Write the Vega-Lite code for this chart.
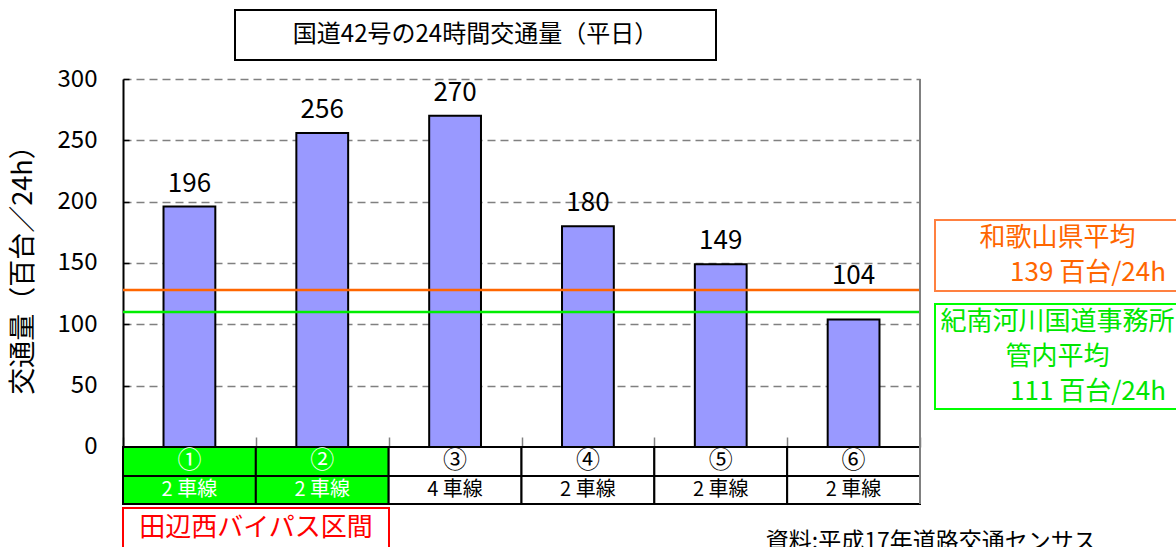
{
  "$schema": "https://vega.github.io/schema/vega-lite/v6.json",
  "background": "white",
  "padding": {"left": 9, "top": 9, "right": 0, "bottom": 0},
  "config": {
    "font": "Noto Sans CJK JP",
    "view": {"stroke": null},
    "text": {"color": "black", "baseline": "middle"}
  },
  "datasets": {
    "traffic": [
      {"区間": "①", "交通量": 196, "車線": "2 車線", "田辺西": true},
      {"区間": "②", "交通量": 256, "車線": "2 車線", "田辺西": true},
      {"区間": "③", "交通量": 270, "車線": "4 車線", "田辺西": false},
      {"区間": "④", "交通量": 180, "車線": "2 車線", "田辺西": false},
      {"区間": "⑤", "交通量": 149, "車線": "2 車線", "田辺西": false},
      {"区間": "⑥", "交通量": 104, "車線": "2 車線", "田辺西": false}
    ],
    "averages": [
      {"平均": "和歌山県平均", "値": 128},
      {"平均": "紀南河川国道事務所管内平均", "値": 110}
    ],
    "wakayama": [
      {"行": 1, "文": "和歌山県平均"},
      {"行": 2, "文": "139 百台/24h"}
    ],
    "kinan": [
      {"行": 1, "文": "紀南河川国道事務所"},
      {"行": 2, "文": "管内平均"},
      {"行": 3, "文": "111 百台/24h"}
    ]
  },
  "spacing": 2,
  "vconcat": [
    {
      "spacing": 110,
      "hconcat": [
        {"data": {"values": []}, "mark": "point", "width": 1, "height": 1},
        {
          "width": 481,
          "height": 50,
          "view": {"stroke": "black", "strokeWidth": 2},
          "data": {"values": [{"題": "国道42号の24時間交通量（平日）"}]},
          "mark": {"type": "text", "fontSize": 24},
          "encoding": {"text": {"field": "題"}}
        }
      ]
    },
    {"data": {"values": []}, "mark": "point", "width": 1, "height": 2},
    {
      "spacing": 12,
      "hconcat": [
        {
          "width": 797,
          "height": 425,
          "data": {"name": "traffic"},
          "layer": [
            {
              "mark": {"type": "bar", "width": {"band": 0.39}, "fill": "#9999FF", "stroke": "black", "strokeWidth": 2},
              "encoding": {
                "x": {
                  "field": "区間", "type": "nominal", "sort": null,
                  "scale": {"paddingInner": 0, "paddingOuter": 0},
                  "axis": {"labels": false, "domain": false, "title": null, "ticks": true, "tickBand": "extent", "tickSize": -10, "tickColor": "#808080", "tickWidth": 1.5, "offset": -57, "grid": false}
                },
                "y": {
                  "field": "交通量", "type": "quantitative",
                  "scale": {"domain": [-46.5, 300], "nice": false, "zero": false},
                  "axis": {
                    "values": [0, 50, 100, 150, 200, 250, 300],
                    "title": "交通量（百台／24h）",
                    "titleFontSize": 27, "titleFontWeight": "normal", "titleColor": "black",
                    "titleY": 184, "titlePadding": 20,
                    "labelFontSize": 24, "labelColor": "black", "labelPadding": 32,
                    "tickSize": -6, "tickColor": "black", "tickWidth": 1.5,
                    "domainColor": "black", "domainWidth": 2,
                    "grid": true, "gridColor": "#808080", "gridDash": [8, 5], "gridWidth": 1.5
                  }
                }
              }
            },
            {
              "transform": [{"filter": "datum['区間'] != '⑥'"}],
              "mark": {"type": "text", "fontSize": 26, "dy": -23},
              "encoding": {
                "x": {"field": "区間", "type": "nominal", "sort": null},
                "y": {"field": "交通量", "type": "quantitative"},
                "text": {"field": "交通量"}
              }
            },
            {
              "transform": [{"filter": "datum['区間'] == '⑥'"}],
              "mark": {"type": "text", "fontSize": 26, "dy": -43},
              "encoding": {
                "x": {"field": "区間", "type": "nominal", "sort": null},
                "y": {"field": "交通量", "type": "quantitative"},
                "text": {"field": "交通量"}
              }
            },
            {
              "data": {"name": "averages"},
              "mark": {"type": "rule", "strokeWidth": 2.5},
              "encoding": {
                "y": {"field": "値", "type": "quantitative"},
                "color": {
                  "field": "平均", "type": "nominal",
                  "scale": {"domain": ["和歌山県平均", "紀南河川国道事務所管内平均"], "range": ["#FF6600", "#00EE00"]},
                  "legend": null
                }
              }
            },
            {
              "mark": {"type": "rect", "stroke": "black", "strokeWidth": 2},
              "encoding": {
                "x": {"field": "区間", "type": "nominal", "sort": null},
                "y": {"datum": 0, "type": "quantitative"},
                "y2": {"datum": -23.6},
                "fill": {"condition": {"test": "datum['田辺西']", "value": "#00FF00"}, "value": "white"}
              }
            },
            {
              "mark": {"type": "rect", "stroke": "black", "strokeWidth": 2},
              "encoding": {
                "x": {"field": "区間", "type": "nominal", "sort": null},
                "y": {"datum": -23.6, "type": "quantitative"},
                "y2": {"datum": -46.5},
                "fill": {"condition": {"test": "datum['田辺西']", "value": "#00FF00"}, "value": "white"}
              }
            },
            {
              "mark": {"type": "text", "fontSize": 24},
              "encoding": {
                "x": {"field": "区間", "type": "nominal", "sort": null},
                "y": {"datum": -11.8, "type": "quantitative"},
                "text": {"field": "区間"},
                "color": {"condition": {"test": "datum['田辺西']", "value": "white"}, "value": "black"}
              }
            },
            {
              "mark": {"type": "text", "fontSize": 20},
              "encoding": {
                "x": {"field": "区間", "type": "nominal", "sort": null},
                "y": {"datum": -35, "type": "quantitative"},
                "text": {"field": "車線"},
                "color": {"condition": {"test": "datum['田辺西']", "value": "white"}, "value": "black"}
              }
            },
            {
              "data": {"values": [{"枠": "右"}]},
              "mark": {"type": "rule", "color": "#808080", "strokeWidth": 2},
              "encoding": {"x": {"value": "width"}}
            }
          ]
        },
        {
          "spacing": 11,
          "vconcat": [
            {"data": {"values": []}, "mark": "point", "width": 1, "height": 129},
            {
              "width": 245,
              "height": 71,
              "view": {"stroke": "#FF8040", "strokeWidth": 2},
              "data": {"name": "wakayama"},
              "encoding": {
                "y": {"field": "行", "type": "ordinal", "axis": null},
                "text": {"field": "文"}
              },
              "layer": [
                {
                  "transform": [{"filter": "datum['行'] == 1"}],
                  "mark": {"type": "text", "fontSize": 26, "color": "#FF6600", "align": "center"}
                },
                {
                  "transform": [{"filter": "datum['行'] == 2"}],
                  "mark": {"type": "text", "fontSize": 26, "color": "#FF6600", "align": "right", "x": "width", "dx": -14}
                }
              ]
            },
            {
              "width": 245,
              "height": 105,
              "view": {"stroke": "#00FF00", "strokeWidth": 2},
              "data": {"name": "kinan"},
              "encoding": {
                "y": {"field": "行", "type": "ordinal", "axis": null},
                "text": {"field": "文"}
              },
              "layer": [
                {
                  "transform": [{"filter": "datum['行'] <= 2"}],
                  "mark": {"type": "text", "fontSize": 26, "color": "#00E600", "align": "center"}
                },
                {
                  "transform": [{"filter": "datum['行'] == 3"}],
                  "mark": {"type": "text", "fontSize": 26, "color": "#00E600", "align": "right", "x": "width", "dx": -14}
                }
              ]
            }
          ]
        }
      ]
    },
    {
      "spacing": 341,
      "hconcat": [
        {
          "width": 266,
          "height": 40,
          "view": {"stroke": "#FF0000", "strokeWidth": 2},
          "data": {"values": [{"注": "田辺西バイパス区間"}]},
          "mark": {"type": "text", "fontSize": 26, "color": "#FF0000"},
          "encoding": {"text": {"field": "注"}}
        },
        {
          "width": 400,
          "height": 67,
          "data": {"values": [{"出典": "資料:平成17年道路交通センサス"}]},
          "mark": {"type": "text", "fontSize": 23},
          "encoding": {"text": {"field": "出典"}}
        }
      ]
    }
  ]
}
